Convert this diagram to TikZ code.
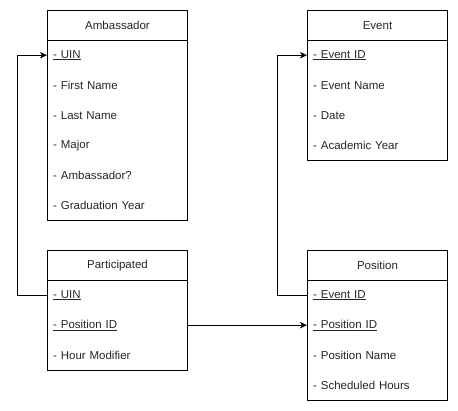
\documentclass[tikz,border=0pt]{standalone}
\usepackage{fontspec}
\setmainfont{Liberation Sans}
\usetikzlibrary{arrows.meta}
\begin{document}
\begin{tikzpicture}[x=1pt,y=-1pt,
  every node/.style={font=\fontsize{11.5}{13}\selectfont, text=black!85},
  hdr/.style={draw, line width=1pt, minimum width=140pt, minimum height=30pt, inner sep=0pt, anchor=north west},
  fld/.style={minimum height=30pt, text width=128pt, inner xsep=6pt, inner ysep=0pt, align=left, anchor=north west},
  frame/.style={draw, line width=1pt},
  conn/.style={draw, line width=1pt, -{Stealth[length=7pt,width=6.5pt,inset=2pt]}},
  key/.style={fld, execute at begin node={\underline\bgroup}, execute at end node={\egroup}}
]
\useasboundingbox (0,0) rectangle (458,411);
% Ambassador
\node[hdr] (amb) at (47,10) {Ambassador};
\node[fld] (amb1) at (47,40) {\underline{- UIN}};
\node[fld] (amb2) at (47,70) {- First Name};
\node[fld] (amb3) at (47,100) {- Last Name};
\node[fld] (amb4) at (47,130) {- Major};
\node[fld] (amb5) at (47,160) {- Ambassador?};
\node[fld] (amb6) at (47,190) {- Graduation Year};
\draw[frame] (amb.south west) rectangle (amb6.south east);
% Event
\node[hdr] (ev) at (307,10) {Event};
\node[fld] (ev1) at (307,40) {\underline{- Event ID}};
\node[fld] (ev2) at (307,70) {- Event Name};
\node[fld] (ev3) at (307,100) {- Date};
\node[fld] (ev4) at (307,130) {- Academic Year};
\draw[frame] (ev.south west) rectangle (ev4.south east);
% Participated
\node[hdr] (par) at (47,250) {Participated};
\node[fld] (par1) at (47,280) {\underline{- UIN}};
\node[fld] (par2) at (47,310) {\underline{- Position ID}};
\node[fld] (par3) at (47,340) {- Hour Modifier};
\draw[frame] (par.south west) rectangle (par3.south east);
% Position
\node[hdr] (pos) at (307,250) {Position};
\node[fld] (pos1) at (307,280) {\underline{- Event ID}};
\node[fld] (pos2) at (307,310) {\underline{- Position ID}};
\node[fld] (pos3) at (307,340) {- Position Name};
\node[fld] (pos4) at (307,370) {- Scheduled Hours};
\draw[frame] (pos.south west) rectangle (pos4.south east);
% connectors
\draw[conn] (par1.west) -- ++(-30,0) |- (amb1.west);
\draw[conn] (pos1.west) -- ++(-30,0) |- (ev1.west);
\draw[conn] (par2.east) -- (pos2.west);
\end{tikzpicture}
\end{document}
